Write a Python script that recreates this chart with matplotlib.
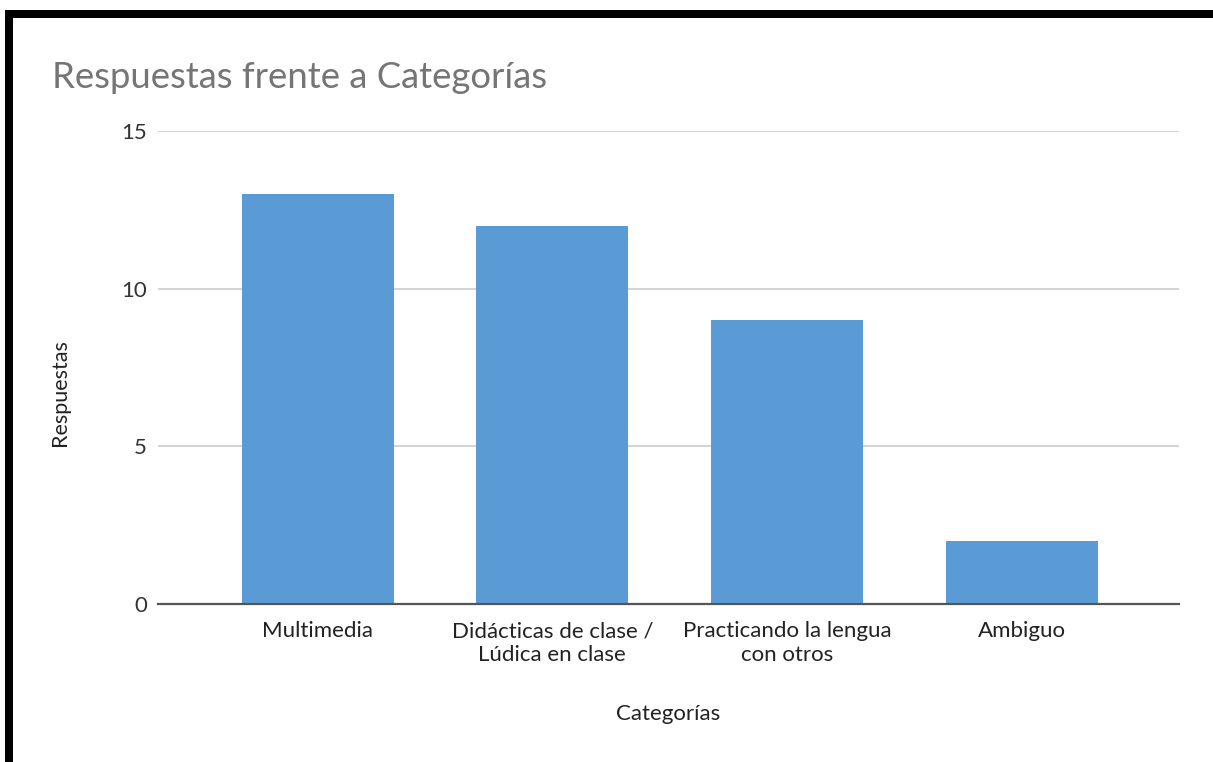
import matplotlib
matplotlib.use("Agg")
import matplotlib.pyplot as plt
from matplotlib.patches import Rectangle

categories = ["Multimedia", "Didácticas de clase /\nLúdica en clase",
              "Practicando la lengua\ncon otros", "Ambiguo"]
respuestas = [13, 12, 9, 2]
yticks = [0, 5, 10, 15]

plt.rcParams['font.family'] = ['Lato', 'DejaVu Sans']

W, H = 1213, 762
fig = plt.figure(figsize=(W / 100, H / 100), dpi=100)
fig.patch.set_facecolor("white")

# black frame (top and left bands)
fig.patches.append(Rectangle((5 / W, 0), 8 / W, 1 - 10 / H, transform=fig.transFigure,
                             facecolor="black", edgecolor="none", zorder=0))
fig.patches.append(Rectangle((5 / W, 1 - 18 / H), 1 - 5 / W, 8 / H, transform=fig.transFigure,
                             facecolor="black", edgecolor="none", zorder=0))

ax = fig.add_axes([158 / W, 1 - 604 / H, (1179 - 158) / W, (604 - 131) / H])
x = list(range(len(categories)))
ax.bar(x, respuestas, width=0.648, color="#5b9bd5", zorder=2)

ax.set_xlim(-0.68, 3.67)
ax.set_ylim(0, 15)
ax.set_yticks(yticks)
ax.set_yticklabels([str(v) for v in yticks], fontsize=16, color="#333333")
ax.set_xticks(x)
ax.set_xticklabels(categories, fontsize=16, color="#222222", linespacing=1.2)
ax.tick_params(axis="y", length=0, pad=8)
ax.tick_params(axis="x", length=0, pad=12.5)
ax.grid(axis="y", color="#cccccc", linewidth=1.2, zorder=0)
for s in ["top", "right", "left"]:
    ax.spines[s].set_visible(False)
ax.spines["bottom"].set_color("#555555")
ax.spines["bottom"].set_linewidth(1.6)
ax.spines["bottom"].set_zorder(3)

ax.set_ylabel("Respuestas", fontsize=15.5, color="#222222")
ax.yaxis.set_label_coords(-0.086, 0.448)
ax.set_xlabel("Categorías", fontsize=16, color="#222222")
ax.xaxis.set_label_coords(0.5, -0.212)

fig.text(52 / W, 1 - 88 / H, "Respuestas frente a Categorías", fontsize=26.3,
         color="#757575", ha="left", va="baseline")

fig.savefig("out.png", dpi=100, facecolor="white")
